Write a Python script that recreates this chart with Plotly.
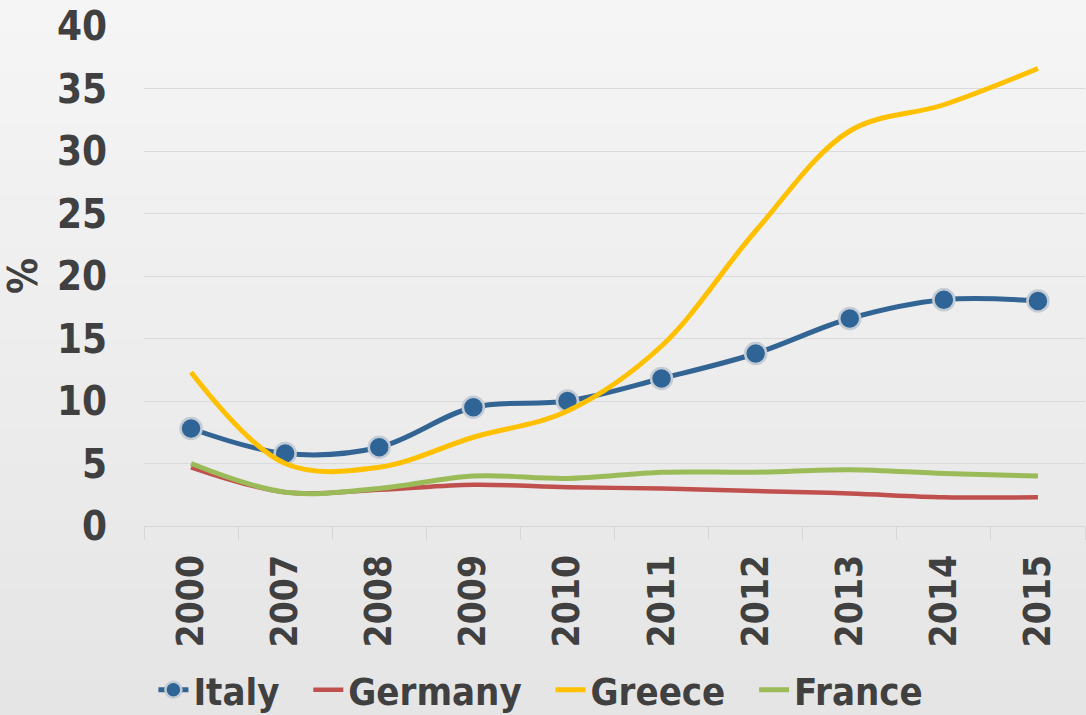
import plotly.graph_objects as go

years = ["2000", "2007", "2008", "2009", "2010", "2011", "2012", "2013", "2014", "2015"]
italy = [7.8, 5.8, 6.3, 9.5, 10.0, 11.8, 13.8, 16.6, 18.1, 18.0]
germany = [4.7, 2.7, 2.9, 3.3, 3.1, 3.0, 2.8, 2.6, 2.3, 2.3]
greece = [12.3, 5.0, 4.7, 7.1, 9.2, 14.4, 23.6, 31.6, 33.7, 36.6]
france = [5.0, 2.7, 3.0, 4.0, 3.8, 4.3, 4.3, 4.5, 4.2, 4.0]

FONT = "DejaVu Sans Condensed, DejaVu Sans, sans-serif"
TXT = "#404040"
W, H = 1086, 715
ML, MR, MT, MB = 144, 1, 26, 189

fig = go.Figure()
fig.add_trace(go.Scatter(
    x=years, y=italy, name="Italy\u00a0\u00a0", mode="lines+markers",
    line=dict(color="#336594", width=5, shape="spline", smoothing=1),
    marker=dict(size=21, color="#2f6496", line=dict(color="#c3cbd4", width=2.5)),
))
fig.add_trace(go.Scatter(
    x=years, y=germany, name="Germany\u00a0\u00a0", mode="lines",
    line=dict(color="#c0504d", width=4.5, shape="spline", smoothing=1),
))
fig.add_trace(go.Scatter(
    x=years, y=greece, name="Greece\u00a0\u00a0", mode="lines",
    line=dict(color="#ffc000", width=5, shape="spline", smoothing=1),
))
fig.add_trace(go.Scatter(
    x=years, y=france, name="France", mode="lines",
    line=dict(color="#9bbb59", width=5, shape="spline", smoothing=1),
))

# subtle vertical background gradient (light top -> slightly darker bottom)
pw, ph = W - ML - MR, H - MT - MB
x0, x1 = -ML / pw - 0.05, 1 + MR / pw + 0.05
ytop, ybot = 1 + MT / ph, -MB / ph
nb = 40
shapes = []
for i in range(nb):
    t = i / (nb - 1)
    g = round(0xf5 + (0xe5 - 0xf5) * t)
    ya = ytop + (ybot - ytop) * i / nb
    yb = ytop + (ybot - ytop) * (i + 1) / nb
    if i == 0:
        ya += 0.05
    if i == nb - 1:
        yb -= 0.05
    shapes.append(dict(type="rect", xref="paper", yref="paper", x0=x0, x1=x1,
                       y0=yb, y1=ya + 0.002, fillcolor=f"rgb({g},{g},{g})",
                       line=dict(width=0), layer="below"))

fig.update_layout(
    width=W, height=H,
    margin=dict(l=ML, r=MR, t=MT, b=MB, autoexpand=False),
    paper_bgcolor="#e9e9e9",
    plot_bgcolor="rgba(0,0,0,0)",
    shapes=shapes,
    font=dict(family=FONT, color=TXT, size=40, weight="bold"),
    showlegend=True,
    legend=dict(
        orientation="h", x=0.01, xanchor="left", y=-0.328, yanchor="middle",
        font=dict(family=FONT, size=38, color=TXT, weight="bold"),
        bgcolor="rgba(0,0,0,0)", itemwidth=30, traceorder="normal",
    ),
    xaxis=dict(
        type="category", tickangle=-90, showgrid=False, zeroline=False,
        showline=True, linecolor="#d6d6d6", linewidth=1, automargin=False,
        tickfont=dict(family=FONT, size=37, color=TXT, weight="bold"),
        ticks="outside", tickson="boundaries", ticklen=13, tickcolor="#d6d6d6",
        ticklabelstandoff=13, range=[-0.5, 9.5],
    ),
    yaxis=dict(
        range=[0, 40], dtick=5, showgrid=True, gridcolor="#dadada", gridwidth=1,
        zeroline=False, showline=False, ticks="", automargin=False,
        tickfont=dict(family=FONT, size=40, color=TXT, weight="bold"),
        ticklabelstandoff=36,
        title=dict(text="%", font=dict(family=FONT, size=40, color=TXT, weight="bold"), standoff=14),
    ),
)

fig.write_html("out.html")
